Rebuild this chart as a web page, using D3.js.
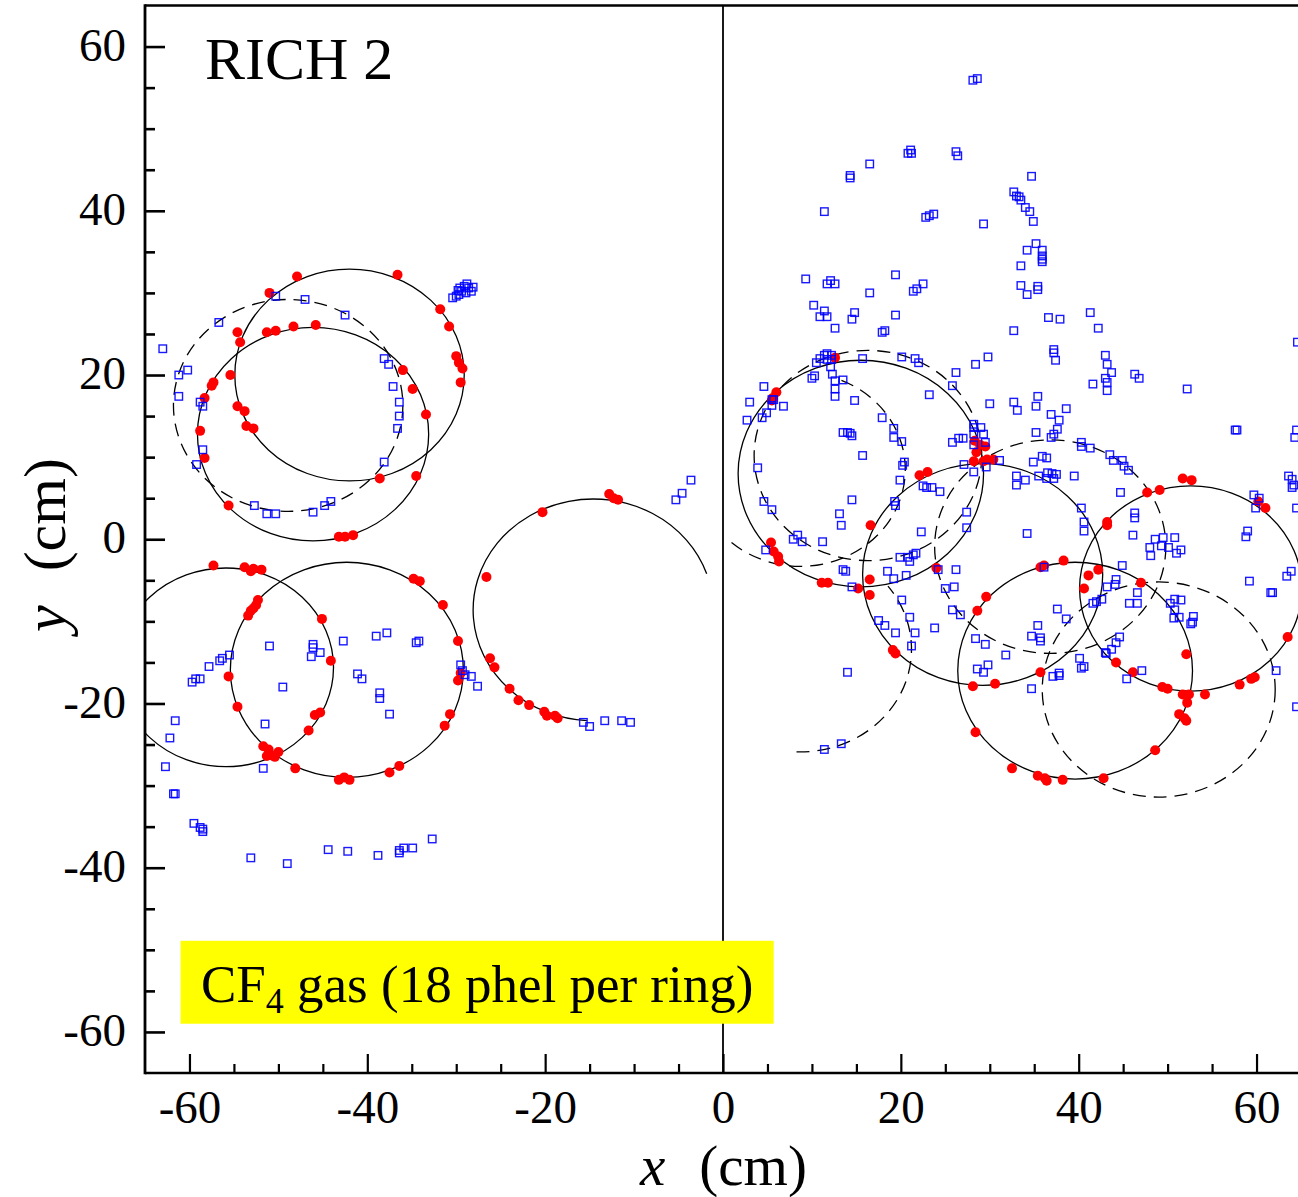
<!DOCTYPE html>
<html>
<head>
<meta charset="utf-8">
<script src="https://cdn.jsdelivr.net/npm/d3@7"></script>
<style>
  body { margin: 0; background: #fff; }
  svg { display: block; }
</style>
</head>
<body>
<div id="chart"></div>
<script>
// ring hits (red) and background hits (blue), x/y in cm
var leftHits = [
  [-47.9,32.0],[-36.6,32.2],[-51.0,30.0],[-31.8,28.0],[-30.8,25.9],[-54.6,25.2],[-54.3,24.0],[-51.3,25.2],[-50.3,25.4],[-48.3,25.9],[-45.8,26.1],[-30.0,22.3],[-29.7,21.5],[-29.3,20.8],[-36.0,20.6],[-55.4,20.0],[-57.3,19.1],[-57.5,18.7],[-29.5,19.1],[-34.9,18.3],[-58.3,17.2],[-54.6,16.2],[-53.8,15.6],[-33.4,15.2],[-53.6,13.8],[-52.8,13.5],[-58.8,13.2],[-58.3,9.9],[-34.5,7.7],[-38.6,7.4],[-55.6,4.1],[-43.2,0.3],[-42.5,0.3],[-41.6,0.5],
  [-57.3,-3.2],[-53.8,-3.4],[-53.1,-3.9],[-52.8,-3.6],[-51.9,-3.7],[-52.3,-7.4],[-52.5,-8.0],[-52.8,-8.4],[-53.1,-8.7],[-53.4,-9.3],[-34.8,-4.8],[-34.1,-5.1],[-31.5,-8.0],[-45.1,-9.7],[-29.8,-12.4],[-44.1,-14.8],[-55.6,-16.7],[-29.5,-16.3],[-29.8,-17.2],[-54.6,-20.4],[-45.3,-21.1],[-45.9,-21.4],[-30.7,-21.3],[-31.3,-22.7],[-46.6,-23.3],[-51.7,-25.2],[-51.1,-25.6],[-50.8,-26.3],[-51.3,-26.4],[-50.0,-25.9],[-50.4,-26.5],[-48.1,-27.9],[-36.4,-27.6],[-37.5,-28.4],[-43.2,-29.3],[-42.6,-29.0],[-42.0,-29.3],
  [-26.6,-4.6],[-26.2,-14.5],[-25.7,-15.6],[-12.8,5.5],[-12.3,5.0],[-11.8,4.8],[-20.3,3.3],[-24.0,-18.2],[-23.0,-19.6],[-21.8,-20.2],[-20.1,-21.0],[-19.8,-21.5],[-18.9,-21.5],[-18.6,-21.8]
];
var rightHits = [
  [12.6,22.1],[6.0,17.9],[5.6,17.2],[5.5,16.9],[28.3,12.0],[28.5,10.6],[29.5,11.3],[28.9,11.5],[28.2,9.5],[29.3,9.5],[30.4,9.7],[29.7,9.7],[22.1,7.8],[23.0,8.2],[16.6,1.7],[5.4,-0.4],[5.7,-1.5],[6.2,-2.1],[6.3,-2.7],[24.0,-3.5],[11.1,-5.3],[11.8,-5.3],[16.5,-4.9],[15.2,-6.0],[16.5,-6.8],[29.6,-7.0],[28.6,-8.7],
  [51.7,7.4],[52.7,7.2],[47.7,5.7],[49.1,6.0],[60.2,4.6],[61.0,3.8],[43.2,2.1],[43.2,1.7],[38.3,-2.6],[35.7,-3.4],[36.1,-3.2],[42.2,-3.7],[41.1,-4.4],[40.6,-6.0],[47.0,-5.3],[19.1,-13.5],[19.4,-13.9],[28.1,-17.9],[30.6,-17.6],[35.7,-16.2],[44.2,-15.0],[46.1,-16.2],[52.1,-14.0],[63.5,-11.9],
  [49.4,-18.0],[50.0,-18.2],[51.7,-18.9],[52.4,-18.9],[54.2,-18.9],[52.2,-19.9],[51.3,-21.3],[51.9,-21.8],[52.1,-22.1],[58.1,-17.7],[59.4,-17.0],[59.8,-16.8],[28.4,-23.5],[32.5,-27.9],[35.4,-28.8],[36.2,-29.1],[36.4,-29.4],[38.2,-29.3],[42.8,-29.1],[48.6,-25.7]
];
var leftBackground = [
  [-63.0,23.2],[-56.7,26.4],[-50.3,29.6],[-47.0,29.2],[-42.5,27.3],
  [-30.4,29.4],[-30.0,29.6],[-29.7,29.8],[-29.4,30.2],[-29.6,30.6],[-29.1,30.8],[-28.8,31.1],[-28.6,30.6],[-28.3,30.2],[-28.9,30.0],[-28.1,30.7],[-29.8,30.3],
  [-61.2,20.0],[-60.2,20.6],[-61.2,17.4],[-58.8,16.7],[-58.5,16.2],[-38.1,22.0],[-37.6,21.3],[-37.1,18.6],[-36.4,16.7],[-36.4,15.0],[-36.6,13.5],[-58.5,10.9],[-59.2,9.1],[-38.1,9.4],[-52.7,4.1],[-51.3,3.1],[-50.3,3.1],[-46.1,3.3],[-44.8,4.1],[-44.1,4.6],
  [-51.0,-13.0],[-46.1,-12.8],[-46.1,-13.2],[-45.3,-13.8],[-46.3,-14.3],[-42.7,-12.4],[-39.0,-11.8],[-37.8,-11.4],[-34.5,-12.6],[-34.2,-12.4],[-55.5,-14.1],[-56.3,-14.5],[-56.6,-14.8],[-57.8,-15.5],[-58.8,-17.0],[-59.3,-17.0],[-59.7,-17.4],[-49.5,-18.0],[-41.1,-16.4],[-40.6,-17.0],[-38.6,-18.7],[-38.6,-19.4],[-37.5,-21.3],[-29.5,-15.3],[-29.3,-16.0],[-29.0,-16.5],[-28.3,-16.7],[-27.6,-17.9],
  [-61.6,-22.1],[-62.2,-24.2],[-51.5,-22.5],[-62.7,-27.7],[-51.7,-27.9],[-61.8,-31.0],[-61.6,-31.0],[-59.5,-34.6],[-58.8,-35.1],[-58.5,-35.6],[-58.5,-35.3],[-53.1,-38.8],[-49.0,-39.5],[-44.4,-37.8],[-42.2,-38.0],[-38.8,-38.5],[-36.4,-38.2],[-36.4,-37.9],[-35.9,-37.6],[-34.9,-37.6],[-32.7,-36.5],
  [-3.6,7.2],[-4.6,5.6],[-5.3,4.8],[-15.7,-22.3],[-15.0,-22.8],[-13.3,-22.1],[-11.4,-22.1],[-10.4,-22.3]
];
var rightBackground = [
  [28.1,55.9],[28.6,56.1],[21.1,47.4],[20.8,47.0],[21.2,47.0],[26.2,47.2],[26.4,46.7],[16.5,45.7],[14.3,44.3],[14.3,44.0],[34.7,44.2],[11.4,39.9],[22.8,39.2],[23.2,39.4],[23.7,39.6],[29.3,38.4],[32.7,42.3],[33.0,41.8],[33.3,41.7],[33.5,41.3],[34.0,40.4],[34.5,39.9],[34.9,38.7],[35.2,36.0],[34.2,35.2],[35.9,35.2],[35.9,34.5],[35.9,34.1],[35.9,33.8],[33.5,33.3],[33.5,30.9],[34.2,29.8],[35.4,30.8],[35.4,30.4],
  [9.3,31.7],[12.1,31.5],[11.7,31.1],[12.6,31.1],[19.4,32.2],[16.5,30.0],[21.4,30.2],[21.8,30.5],[22.5,31.1],[10.2,28.5],[11.4,27.8],[10.9,27.1],[11.7,27.1],[14.8,27.6],[14.5,26.8],[19.4,27.3],[12.6,25.7],[17.9,25.2],[18.2,25.4],[32.7,25.4],[36.6,27.0],[37.9,26.8],[41.3,27.6],[42.2,25.7],[64.6,24.0],[37.2,23.1],
  [11.4,22.4],[11.7,22.6],[12.2,22.4],[10.9,22.0],[11.7,21.9],[12.2,21.9],[10.5,21.5],[12.1,21.0],[15.7,22.0],[20.1,22.2],[21.6,22.0],[22.0,21.5],[29.8,22.2],[28.4,21.3],[26.2,20.3],[12.3,20.1],[10.3,19.9],[10.0,19.6],[12.6,19.3],[13.5,19.4],[12.6,18.3],[12.6,17.4],[4.6,18.6],[25.8,18.7],[23.2,17.6],[14.8,16.9],[5.5,17.0],[5.7,17.0],[3.0,16.7],[6.8,16.2],[5.5,16.3],[30.0,16.5],[32.7,16.7],[33.1,15.7],[4.9,15.4],[4.4,14.8],[2.7,14.5],[17.9,14.8],[19.2,13.5],[19.2,12.4],[20.1,11.9],[13.5,13.0],[14.0,13.0],[14.3,12.9],[14.5,12.6],
  [28.2,14.0],[28.2,13.6],[29.0,13.6],[28.2,12.8],[29.3,12.8],[29.5,11.8],[28.2,11.5],[25.8,11.8],[26.5,12.3],[27.0,12.3],[15.7,10.2],[20.4,9.4],[20.2,9.0],[27.1,9.1],[28.2,8.2],[29.6,8.8],[31.1,9.6],[3.9,8.7],[19.9,7.2],[22.5,6.5],[22.9,6.3],[23.5,6.3],[24.4,5.8],[33.0,7.7],[33.0,6.6],[14.5,4.8],[19.3,4.6],[19.4,4.1],[4.6,4.6],[5.5,3.6],[27.4,3.3],[13.1,3.1],[13.3,1.7],[22.3,0.9],[27.4,1.4],[8.4,0.5],[7.9,0.0],[8.9,-0.3],[11.2,-0.3],[4.8,-1.3],
  [19.9,-2.2],[20.8,-2.2],[21.4,-1.9],[21.0,-2.7],[21.7,-1.7],[24.2,-3.7],[26.2,-3.7],[13.5,-3.7],[13.8,-3.9],[18.5,-3.9],[19.2,-4.8],[20.6,-4.4],[14.5,-5.8],[25.0,-6.0],[26.0,-5.8],[20.1,-7.4],[25.8,-8.6],[26.7,-9.2],[21.0,-9.5],[17.5,-9.9],[18.2,-10.5],[23.8,-10.8],
  [37.2,22.7],[37.4,21.8],[43.0,22.4],[43.2,21.3],[43.7,20.3],[46.3,20.1],[46.8,19.6],[43.0,19.6],[43.2,19.1],[43.2,18.1],[41.6,18.9],[52.2,18.3],[35.4,17.4],[35.2,16.2],[36.9,15.2],[37.8,14.5],[38.6,15.9],[35.2,13.0],[37.6,13.4],[37.2,12.8],[36.9,12.4],[40.3,11.8],[40.3,11.3],[41.3,11.1],[57.6,13.3],[57.8,13.3],[64.5,13.3],[64.3,12.4],
  [35.9,10.1],[36.4,9.9],[34.9,9.4],[43.5,10.3],[43.9,9.6],[44.9,9.6],[45.1,8.9],[45.6,8.4],[34.0,7.2],[35.5,7.7],[36.5,8.1],[37.0,8.0],[37.5,7.9],[36.4,7.4],[37.2,7.4],[39.5,7.7],[44.7,5.7],[40.3,3.8],[40.6,2.1],[40.6,1.0],[46.3,3.2],[46.3,2.6],[46.1,0.5],[34.2,0.7],[48.6,0.0],[49.5,0.2],[50.8,0.2],[48.0,-1.0],[49.3,-0.8],[50.1,-1.0],[51.5,-1.3],[48.1,-2.0],[51.0,-1.7],
  [59.7,5.4],[60.3,5.0],[59.9,3.8],[63.6,7.7],[64.0,7.3],[64.2,6.6],[64.0,6.3],[64.5,3.8],[59.0,1.0],[58.8,0.3],[63.4,-4.5],[63.9,-3.9],[59.2,-5.1],[61.6,-6.5],[61.8,-6.5],
  [44.9,-3.2],[44.2,-4.9],[44.1,-5.5],[43.2,-5.8],[36.1,-3.4],[46.6,-6.5],[45.7,-7.8],[46.6,-7.8],[42.6,-7.3],[42.0,-7.6],[41.6,-7.8],[50.3,-7.8],[50.8,-7.3],[51.5,-7.4],[50.8,-8.6],[50.7,-9.6],[51.3,-9.5],[52.9,-9.4],[52.8,-10.1],[52.6,-10.3],[37.6,-8.5],[38.6,-9.7],[35.4,-10.5],
  [19.4,-11.4],[21.6,-11.4],[21.2,-13.0],[14.0,-16.2],[11.4,-25.6],[13.3,-24.9],[28.4,-12.1],[29.5,-12.8],[31.8,-14.1],[28.6,-15.8],[29.3,-16.2],[29.8,-15.3],[34.7,-18.2],[34.7,-11.8],[35.7,-12.0],[35.7,-12.4],[37.1,-16.7],[37.8,-16.6],[37.8,-16.3],[40.1,-14.5],[40.6,-15.5],[40.3,-15.7],[44.6,-11.9],[44.2,-12.6],[43.7,-13.4],[43.1,-13.9],[43.0,-13.8],[47.1,-16.0],[45.4,-17.0],[62.2,-16.0],[64.5,-20.4]
];

// fitted rings: [cx, cy, r]
var solidRings = [[-42.0,20.0,12.9],[-46.1,12.8,13.0],[-55.9,-15.6,12.1],[-42.3,-15.9,13.1],
                  [15.5,8.0,13.8],[29.2,-4.3,13.5],[39.6,-16.0,13.2],[52.6,-6.0,12.5]];
var dashedRings = [[-48.9,16.3,12.9],[16.3,10.2,12.8],[36.8,-0.9,13.0],[49.0,-18.3,13.1]];
// partial rings: [cx, cy, r, start angle, end angle] (degrees, counter-clockwise)
var solidArcs = [[-14.6,-8.6,13.5,19,267]];
var dashedArcs = [[8.7,8.5,11.8,-131,67],[8.7,-13.4,12.5,-92,38]];

var xTicks = [-60,-40,-20,0,20,40,60];
var yTicks = [-60,-40,-20,0,20,40,60];
var xMinor = [-55,-50,-45,-35,-30,-25,-15,-10,-5,5,10,15,25,30,35,45,50,55];
var yMinor = [-55,-50,-45,-35,-30,-25,-15,-10,-5,5,10,15,25,30,35,45,50,55];

var serif = "'Liberation Serif', 'Times New Roman', Times, serif";
var width = 1298, height = 1197;
var dash = "13,8";

var svg = d3.select("#chart").append("svg")
  .attr("width", width).attr("height", height);

var x = d3.scaleLinear().domain([-65, 65]).range([145, 1301]);
var y = d3.scaleLinear().domain([-65, 65]).range([1073, 5.5]);

var defs = svg.append("defs");
defs.append("clipPath").attr("id", "plotClip").append("rect")
  .attr("x", x(-65)).attr("y", y(65))
  .attr("width", x(65) - x(-65)).attr("height", y(-65) - y(65));

var plot = svg.append("g").attr("clip-path", "url(#plotClip)");

// centre line x = 0
plot.append("line")
  .attr("x1", x(0)).attr("x2", x(0))
  .attr("y1", y(65)).attr("y2", y(-65))
  .attr("stroke", "#000").attr("stroke-width", 1.8);

function drawRings(g, data, dashed) {
  g.selectAll(null).data(data).enter().append("ellipse")
    .attr("cx", d => x(d[0]))
    .attr("cy", d => y(d[1]))
    .attr("rx", d => x(d[2]) - x(0))
    .attr("ry", d => y(0) - y(d[2]))
    .attr("fill", "none")
    .attr("stroke", "#000")
    .attr("stroke-width", 1.3)
    .attr("stroke-dasharray", dashed ? dash : null);
}

function arcPath(c) {
  var rad = Math.PI / 180;
  var rx = x(c[2]) - x(0), ry = y(0) - y(c[2]);
  var a0 = c[3] * rad, a1 = c[4] * rad;
  var p0 = [x(c[0] + c[2] * Math.cos(a0)), y(c[1] + c[2] * Math.sin(a0))];
  var p1 = [x(c[0] + c[2] * Math.cos(a1)), y(c[1] + c[2] * Math.sin(a1))];
  var large = (c[4] - c[3]) > 180 ? 1 : 0;
  return "M" + p0[0] + "," + p0[1] + " A" + rx + "," + ry + " 0 " + large + " 0 " + p1[0] + "," + p1[1];
}

function drawArcs(g, data, dashed) {
  g.selectAll(null).data(data).enter().append("path")
    .attr("d", arcPath)
    .attr("fill", "none")
    .attr("stroke", "#000")
    .attr("stroke-width", 1.3)
    .attr("stroke-dasharray", dashed ? dash : null);
}

drawRings(plot, solidRings, false);
drawRings(plot, dashedRings, true);
drawArcs(plot, solidArcs, false);
drawArcs(plot, dashedArcs, true);

// ring hits
plot.selectAll(".hit").data(leftHits.concat(rightHits)).enter().append("circle")
  .attr("class", "hit")
  .attr("cx", d => x(d[0])).attr("cy", d => y(d[1]))
  .attr("r", 5)
  .attr("fill", "#ff0000");

// background hits
var sq = 7.5;
plot.selectAll(".bg").data(leftBackground.concat(rightBackground)).enter().append("rect")
  .attr("class", "bg")
  .attr("x", d => x(d[0]) - sq / 2).attr("y", d => y(d[1]) - sq / 2)
  .attr("width", sq).attr("height", sq)
  .attr("fill", "none")
  .attr("stroke", "#0000ff").attr("stroke-opacity", 0.9)
  .attr("stroke-width", 1.4);

// axes
var fmt = d => String(d);

var gy = svg.append("g").attr("transform", "translate(" + x(-65) + ",0)")
  .call(d3.axisLeft(y).tickValues(yTicks).tickSize(-20).tickSizeOuter(0).tickPadding(19).tickFormat(fmt));
gy.select(".domain").remove();
gy.selectAll(".tick line").attr("stroke", "#000").attr("stroke-width", 2.6);
gy.selectAll("text").attr("font-family", serif).attr("font-size", 47).attr("fill", "#000").attr("dy", "0.29em");

var gyMinor = svg.append("g").attr("transform", "translate(" + x(-65) + ",0)")
  .call(d3.axisLeft(y).tickValues(yMinor).tickSize(-10).tickSizeOuter(0).tickFormat(""));
gyMinor.select(".domain").remove();
gyMinor.selectAll(".tick line").attr("stroke", "#000").attr("stroke-width", 2.6);

var gx = svg.append("g").attr("transform", "translate(0," + y(-65) + ")")
  .call(d3.axisBottom(x).tickValues(xTicks).tickSize(-19).tickSizeOuter(0).tickPadding(17).tickFormat(fmt));
gx.select(".domain").remove();
gx.selectAll(".tick line").attr("stroke", "#000").attr("stroke-width", 2.2);
gx.selectAll("text").attr("font-family", serif).attr("font-size", 47).attr("fill", "#000");

var gxMinor = svg.append("g").attr("transform", "translate(0," + y(-65) + ")")
  .call(d3.axisBottom(x).tickValues(xMinor).tickSize(-9).tickSizeOuter(0).tickFormat(""));
gxMinor.select(".domain").remove();
gxMinor.selectAll(".tick line").attr("stroke", "#000").attr("stroke-width", 2.2);

// frame
svg.append("line").attr("x1", x(-65)).attr("x2", width).attr("y1", y(65)).attr("y2", y(65))
  .attr("stroke", "#000").attr("stroke-width", 2.6);
svg.append("line").attr("x1", x(-65)).attr("x2", width).attr("y1", y(-65)).attr("y2", y(-65))
  .attr("stroke", "#000").attr("stroke-width", 2.6);
svg.append("line").attr("x1", x(-65)).attr("x2", x(-65)).attr("y1", y(65) - 1.3).attr("y2", y(-65) + 1.3)
  .attr("stroke", "#000").attr("stroke-width", 2.8);

// labels
svg.append("text")
  .attr("x", 205).attr("y", 79)
  .attr("font-family", serif).attr("font-size", 60)
  .text("RICH 2");

svg.append("rect")
  .attr("x", x(-61)).attr("y", y(-48.9))
  .attr("width", x(5.7) - x(-61)).attr("height", y(-59) - y(-48.9))
  .attr("fill", "#ffff00");

var cf = svg.append("text")
  .attr("x", 201).attr("y", 1002)
  .attr("font-family", serif).attr("font-size", 53);
cf.append("tspan").text("CF");
cf.append("tspan").attr("font-size", 36).attr("dy", 11).text("4");
cf.append("tspan").attr("dy", -11).text(" gas (18 phel per ring)");

var xt = svg.append("text")
  .attr("x", 640).attr("y", 1184.5)
  .attr("font-family", serif).attr("font-size", 57);
xt.append("tspan").attr("font-style", "italic").text("x");
xt.append("tspan").attr("dx", 34).text("(cm)");

var yt = svg.append("text")
  .attr("transform", "translate(65,632) rotate(-90)")
  .attr("font-family", serif).attr("font-size", 60);
yt.append("tspan").attr("font-style", "italic").text("y");
yt.append("tspan").attr("dx", 34).text("(cm)");
</script>
</body>
</html>
